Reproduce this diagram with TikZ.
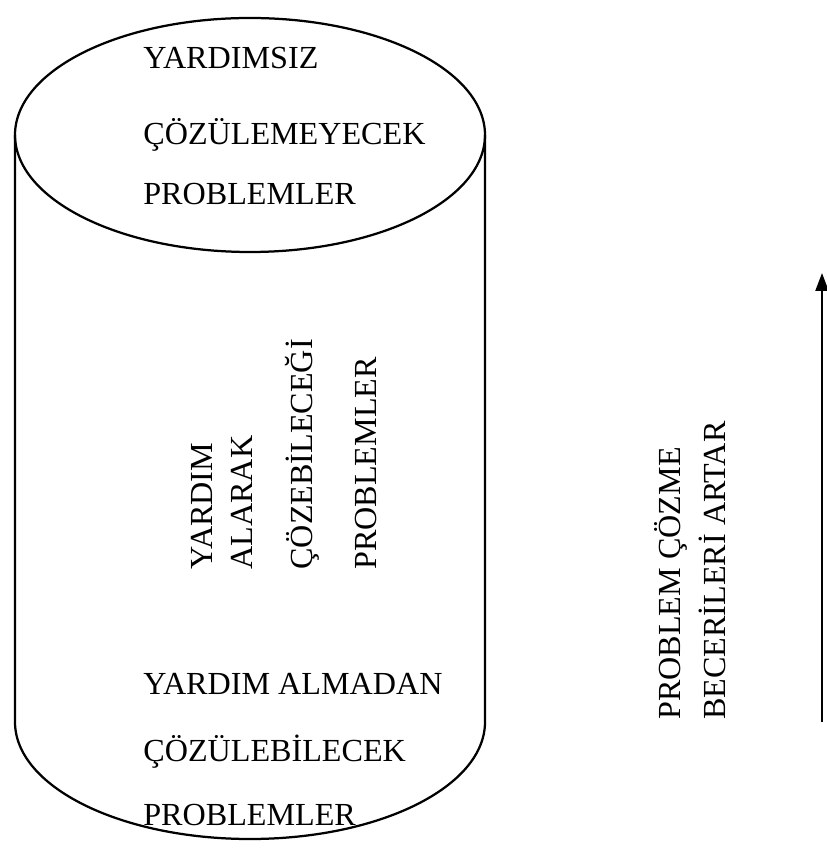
\documentclass[tikz,border=0pt]{standalone}
\usepackage{fontspec}
\setmainfont{Liberation Serif}
\usetikzlibrary{arrows.meta}
\tikzset{
	lbl/.style={anchor=base west, inner sep=0pt, font=\fontsize{18.3}{20}\selectfont},
	vlbl/.style={lbl, rotate=90}
}
\begin{document}
\begin{tikzpicture}[x=0.02cm, y=0.02cm]
			%%%%% START %%%%%
			\useasboundingbox (0, 0) rectangle (827, 849);
			
			\draw[line width=0.045cm] (250, 714) ellipse [x radius=235, y radius=117];
			\draw[line width=0.045cm] (15, 714) -- (15, 127) arc (180:360:235 and 117) -- (485, 714);
			
			\node[lbl] (top1) at (143, 780) {YARDIMSIZ};
			\node[lbl] (top2) at (143, 704) {ÇÖZÜLEMEYECEK};
			\node[lbl] (top3) at (143, 644) {PROBLEMLER};
			
			\node[vlbl] (mid1) at (212, 279) {YARDIM};
			\node[vlbl] (mid2) at (252, 279) {ALARAK};
			\node[vlbl] (mid3) at (312, 279) {ÇÖZEBİLECEĞİ};
			\node[vlbl] (mid4) at (376, 279) {PROBLEMLER};
			
			\node[lbl] (bot1) at (143, 154) {YARDIM ALMADAN};
			\node[lbl] (bot2) at (143, 87) {ÇÖZÜLEBİLECEK};
			\node[lbl] (bot3) at (143, 24) {PROBLEMLER};
			
			\node[vlbl] (side1) at (680, 129) {PROBLEM ÇÖZME};
			\node[vlbl] (side2) at (725, 129) {BECERİLERİ ARTAR};
			
			\coordinate (arrlow) at (822, 127);
			\coordinate (arrhigh) at (822, 576);
			\draw[line width=0.045cm, -{Triangle[length=0.36cm, width=0.26cm]}] (arrlow) -- (arrhigh);
			%%%%% END %%%%%
\end{tikzpicture}
\end{document}
